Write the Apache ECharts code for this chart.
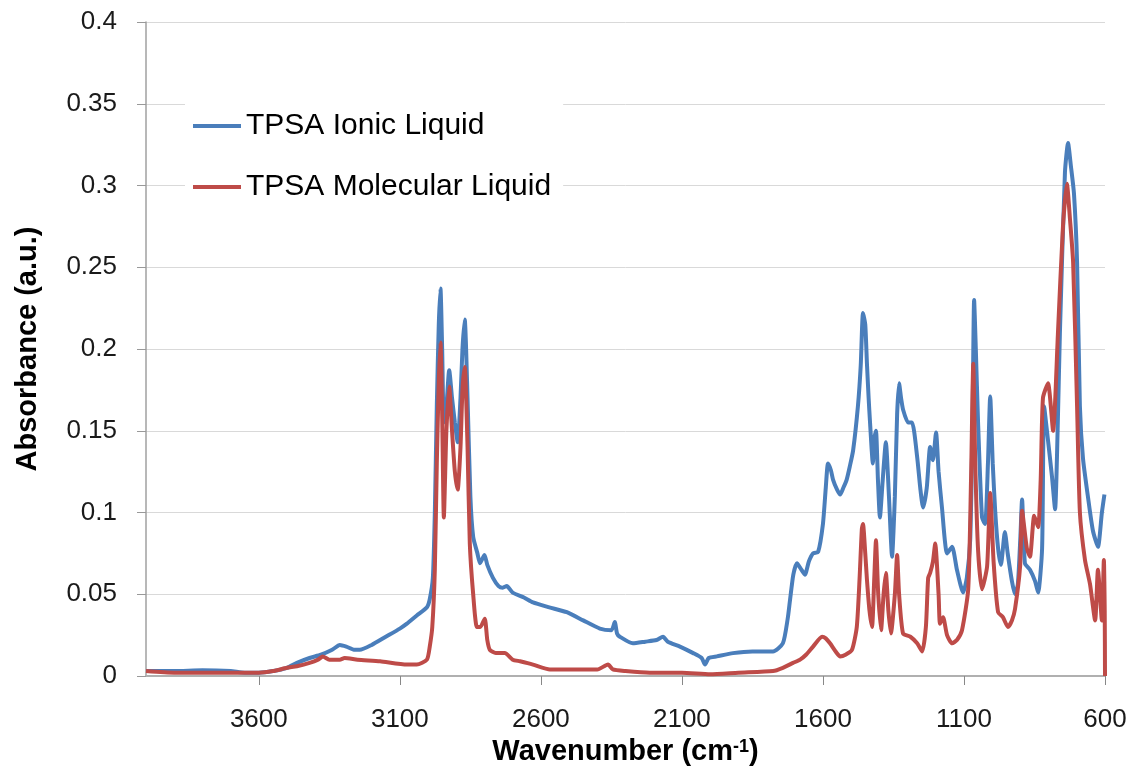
<!DOCTYPE html>
<html><head><meta charset="utf-8">
<script src="https://cdn.jsdelivr.net/npm/echarts@6.0.0/dist/echarts.min.js"></script>
<style>html,body{margin:0;padding:0;background:#fff}#c{width:1132px;height:770px}</style>
</head><body><div id="c"></div>
<script>
const seriesNames = ['TPSA Ionic Liquid', 'TPSA Molecular Liquid'];
const xTickValues = [600, 1100, 1600, 2100, 2600, 3100, 3600];

// [wavenumber (cm-1), absorbance (a.u.)]
const ionicLiquid = [
 [4000,0.003],[3900,0.003],[3800,0.0035],[3700,0.003],[3650,0.002],[3600,0.002],[3550,0.003],[3500,0.005],
 [3465,0.008],[3420,0.011],[3380,0.013],[3340,0.016],[3313,0.019],[3290,0.018],[3260,0.016],[3242,0.016],
 [3200,0.019],[3150,0.024],[3100,0.029],[3075,0.032],[3040,0.037],[3004,0.042],[2994,0.047],[2983,0.06],
 [2976,0.10],[2969,0.165],[2962,0.215],[2956,0.237],[2950,0.20],[2944,0.155],[2935,0.165],[2925,0.187],
 [2915,0.17],[2905,0.155],[2895,0.143],[2885,0.17],[2878,0.20],[2870,0.218],[2860,0.17],[2850,0.11],
 [2840,0.085],[2825,0.075],[2816,0.069],[2800,0.074],[2790,0.068],[2770,0.060],[2750,0.055],[2735,0.054],
 [2721,0.055],[2700,0.051],[2660,0.048],[2628,0.045],[2570,0.042],[2508,0.039],[2450,0.034],[2391,0.029],
 [2350,0.028],[2338,0.033],[2330,0.026],[2320,0.024],[2274,0.020],[2230,0.021],[2190,0.022],[2167,0.024],
 [2150,0.021],[2107,0.018],[2060,0.014],[2030,0.011],[2018,0.007],[2005,0.011],[1976,0.012],[1919,0.014],
 [1850,0.015],[1777,0.015],[1742,0.020],[1725,0.035],[1717,0.046],[1705,0.062],[1692,0.069],[1680,0.066],
 [1664,0.062],[1650,0.070],[1635,0.075],[1617,0.076],[1600,0.093],[1590,0.115],[1582,0.130],[1572,0.126],
 [1564,0.120],[1550,0.114],[1539,0.111],[1528,0.115],[1516,0.120],[1505,0.128],[1493,0.138],[1476,0.165],
 [1466,0.19],[1458,0.222],[1450,0.215],[1444,0.191],[1438,0.17],[1433,0.155],[1423,0.130],[1418,0.145],
 [1412,0.150],[1405,0.12],[1398,0.097],[1388,0.12],[1377,0.143],[1366,0.11],[1355,0.073],[1345,0.11],
 [1337,0.16],[1330,0.179],[1323,0.17],[1316,0.163],[1298,0.155],[1284,0.155],[1266,0.134],[1255,0.115],
 [1245,0.103],[1232,0.115],[1220,0.140],[1210,0.132],[1199,0.149],[1190,0.125],[1178,0.103],[1160,0.075],
 [1142,0.079],[1125,0.065],[1103,0.051],[1090,0.060],[1078,0.083],[1070,0.15],[1064,0.230],[1058,0.20],
 [1050,0.155],[1036,0.097],[1025,0.093],[1015,0.13],[1007,0.171],[998,0.13],[989,0.10],[979,0.078],
 [969,0.068],[955,0.088],[945,0.075],[930,0.058],[919,0.050],[909,0.056],[900,0.085],[894,0.108],
 [884,0.069],[866,0.065],[848,0.058],[837,0.051],[823,0.078],[816,0.165],[802,0.144],[788,0.122],
 [777,0.102],[768,0.15],[760,0.209],[742,0.308],[731,0.326],[721,0.312],[710,0.295],[699,0.253],
 [689,0.165],[678,0.133],[660,0.109],[643,0.089],[625,0.079],[611,0.100],[602,0.111]
];

const molecularLiquid = [
 [4000,0.003],[3900,0.002],[3800,0.002],[3700,0.002],[3600,0.002],[3550,0.003],[3500,0.005],[3465,0.006],
 [3420,0.008],[3390,0.010],[3373,0.012],[3350,0.010],[3313,0.010],[3296,0.011],[3250,0.010],[3170,0.009],
 [3075,0.007],[3040,0.007],[3004,0.010],[2994,0.018],[2985,0.030],[2976,0.065],[2969,0.13],[2962,0.18],
 [2956,0.204],[2950,0.16],[2944,0.097],[2935,0.15],[2925,0.177],[2915,0.15],[2905,0.125],[2895,0.114],
 [2885,0.14],[2878,0.175],[2870,0.189],[2860,0.14],[2852,0.081],[2840,0.05],[2827,0.030],[2815,0.030],
 [2799,0.035],[2790,0.022],[2781,0.016],[2760,0.014],[2728,0.014],[2700,0.010],[2674,0.009],[2628,0.007],
 [2568,0.004],[2500,0.004],[2400,0.004],[2362,0.007],[2345,0.004],[2300,0.003],[2214,0.002],[2100,0.002],
 [2000,0.001],[1900,0.002],[1777,0.003],[1742,0.005],[1706,0.008],[1681,0.010],[1660,0.013],[1635,0.018],
 [1603,0.024],[1590,0.023],[1575,0.020],[1555,0.015],[1539,0.012],[1520,0.013],[1497,0.016],[1480,0.030],
 [1470,0.060],[1462,0.090],[1458,0.093],[1450,0.075],[1444,0.059],[1435,0.040],[1426,0.030],[1418,0.06],
 [1412,0.083],[1404,0.05],[1394,0.028],[1385,0.05],[1377,0.063],[1368,0.04],[1359,0.026],[1345,0.05],
 [1337,0.074],[1330,0.05],[1316,0.026],[1290,0.024],[1266,0.020],[1248,0.015],[1235,0.03],[1227,0.06],
 [1220,0.063],[1210,0.07],[1202,0.081],[1190,0.05],[1185,0.032],[1174,0.036],[1160,0.025],[1142,0.020],
 [1125,0.022],[1107,0.028],[1085,0.053],[1075,0.12],[1067,0.191],[1060,0.13],[1050,0.077],[1036,0.053],
 [1018,0.067],[1007,0.112],[995,0.07],[979,0.039],[962,0.036],[944,0.030],[930,0.034],[919,0.041],
 [901,0.067],[894,0.101],[877,0.078],[866,0.073],[851,0.098],[837,0.091],[828,0.12],[820,0.170],
 [802,0.179],[784,0.150],[767,0.209],[749,0.275],[735,0.301],[724,0.279],[713,0.253],[699,0.165],
 [689,0.100],[671,0.071],[653,0.056],[635,0.034],[625,0.065],[611,0.034],[604,0.071],[601,0.04],[600,0]
];

const FONT = '"Liberation Sans", Arial, sans-serif';
const chart = echarts.init(document.getElementById('c'), null, {renderer: 'canvas'});
chart.setOption({
  animation: false,
  backgroundColor: '#ffffff',
  grid: {left: 146, right: 27, top: 22, bottom: 94, containLabel: false, outerBoundsMode: 'none'},
  legend: {
    orient: 'vertical', left: 185, top: 97, padding: [14, 12, 14, 8],
    itemGap: 31, itemWidth: 48, itemHeight: 4, icon: 'rect',
    backgroundColor: '#ffffff',
    textStyle: {fontSize: 30, fontFamily: FONT, color: '#000'},
    data: seriesNames
  },
  xAxis: {
    type: 'value', inverse: true, min: 600, max: 4000,
    name: '{a|Wavenumber (cm}{s|-1}{a|)}',
    nameLocation: 'middle', nameGap: 59,
    nameTextStyle: {
      rich: {
        a: {fontSize: 29, fontWeight: 'bold', fontFamily: FONT, color: '#000'},
        s: {fontSize: 18, fontWeight: 'bold', fontFamily: FONT, color: '#000', verticalAlign: 'top'}
      }
    },
    axisLine: {show: true, lineStyle: {color: '#b0b0b0', width: 2}},
    axisTick: {show: true, customValues: xTickValues, length: 9, lineStyle: {color: '#888'}},
    axisLabel: {customValues: xTickValues, margin: 31, fontSize: 26, fontFamily: FONT, color: '#1a1a1a',
      formatter: function (v) { return String(v); }},
    splitLine: {show: false}
  },
  yAxis: {
    type: 'value', min: 0, max: 0.4, interval: 0.05,
    name: 'Absorbance (a.u.)', nameLocation: 'middle', nameRotate: 90, nameGap: 104,
    nameTextStyle: {fontSize: 29, fontWeight: 'bold', fontFamily: FONT, color: '#000'},
    axisLine: {show: true, lineStyle: {color: '#a0a0a0', width: 1.5}},
    axisTick: {show: true, length: 9, lineStyle: {color: '#999'}},
    axisLabel: {margin: 29, fontSize: 26, fontFamily: FONT, color: '#1a1a1a'},
    splitLine: {show: true, lineStyle: {color: '#d9d9d9', width: 1}}
  },
  series: [
    {name: seriesNames[0], type: 'line', data: ionicLiquid, showSymbol: false, symbol: 'none', smooth: 0.2,
     lineStyle: {color: '#4a7ebb', width: 4}, itemStyle: {color: '#4a7ebb'}},
    {name: seriesNames[1], type: 'line', data: molecularLiquid, showSymbol: false, symbol: 'none', smooth: 0.2,
     lineStyle: {color: '#be4b48', width: 4}, itemStyle: {color: '#be4b48'}}
  ]
});
</script>
</body></html>
